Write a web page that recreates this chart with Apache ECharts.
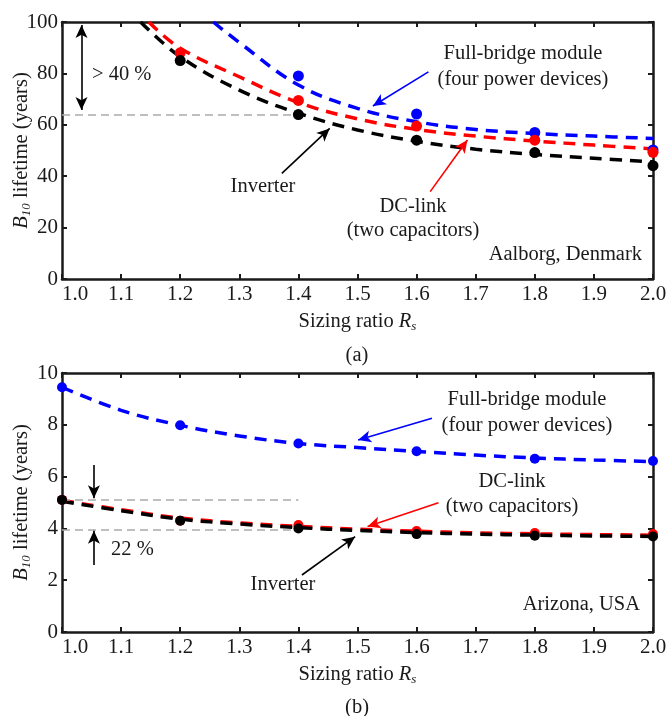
<!DOCTYPE html>
<html><head><meta charset="utf-8">
<script src="https://cdn.jsdelivr.net/npm/echarts@6/dist/echarts.min.js"></script>
<style>html,body{margin:0;padding:0;background:#fff}#c{width:667px;height:716px}</style>
</head><body><div id="c"></div><script>
// ---------- data ----------
// x ticks
const xTickMin = 1.0, xTickMax = 2.0, xTickStep = 0.1;
// (a) Aalborg, Denmark  – simulated points
const aalPtsX      = [1.2, 1.4, 1.6, 1.8, 2.0];
const aalInvPts    = [85, 64, 54, 49.2, 44.1];
const aalDcPts     = [88, 69.5, 59.5, 54, 49.3];
const aalFullPtsX  = [1.4, 1.6, 1.8, 2.0];
const aalFullPts   = [79, 64.2, 57, 50.2];
// (a) fitted dashed curves
const aalInvCurveX  = [1.133, 1.2, 1.3, 1.4, 1.5, 1.6, 1.7, 1.8, 1.9, 2.0];
const aalInvCurveY  = [100, 86.5, 73.5, 64.5, 58, 53.6, 50.5, 48.5, 47, 45.6];
const aalDcCurveX   = [1.147, 1.2, 1.3, 1.4, 1.5, 1.6, 1.7, 1.8, 1.9, 2.0];
const aalDcCurveY   = [100, 89.8, 78.7, 68.7, 62.3, 58.2, 55.6, 53.7, 52.1, 50.6];
const aalFullCurveX = [1.256, 1.3, 1.4, 1.5, 1.6, 1.7, 1.8, 1.9, 2.0];
const aalFullCurveY = [100, 92, 75.5, 66.4, 61.2, 58.2, 56.6, 55.6, 54.7];
// (b) Arizona, USA – simulated points
const ariPtsX    = [1.0, 1.2, 1.4, 1.6, 1.8, 2.0];
const ariInvPts  = [5.1, 4.3, 4.0, 3.78, 3.72, 3.69];
const ariDcPts   = [5.1, 4.3, 4.13, 3.9, 3.82, 3.78];
const ariFullPts = [9.45, 7.98, 7.28, 6.98, 6.69, 6.6];
// (b) fitted dashed curves
const ariCurveX     = [1.0, 1.1, 1.2, 1.3, 1.4, 1.5, 1.6, 1.7, 1.8, 1.9, 2.0];
const ariInvCurveY  = [5.05, 4.68, 4.36, 4.17, 4.03, 3.92, 3.84, 3.78, 3.74, 3.71, 3.69];
const ariDcCurveY   = [5.08, 4.72, 4.40, 4.21, 4.08, 3.97, 3.89, 3.83, 3.79, 3.76, 3.74];
const ariFullCurveY = [9.45, 8.56, 7.98, 7.57, 7.28, 7.12, 6.97, 6.83, 6.72, 6.64, 6.58];
// y ticks
const yTopMax = 100, yTopStep = 20;
const yBotMax = 10,  yBotStep = 2;

// ---------- style ----------
const FONT = 'Liberation Serif';
const FS = 20.5;
const AX = '#1a1a1a';
const BLUE = '#0000ff', RED = '#ff0000', BLACK = '#000000', GRAY = '#aaaaaa';

const zip = (xs, ys) => xs.map((x, i) => [x, ys[i]]);

const richName = {
  i: {fontFamily: FONT, fontSize: FS, fontStyle: 'italic', color: AX},
  s: {fontFamily: FONT, fontSize: 13, fontStyle: 'italic', color: AX, padding: [9, 0, 0, 0]}
};

function xAxesFor(g) {
  const base = {
    type: 'value', gridIndex: g, min: xTickMin, max: xTickMax, interval: xTickStep,
    axisLine: {show: true, onZero: false, lineStyle: {color: AX, width: 2.5}},
    axisTick: {show: true, inside: true, length: 5, lineStyle: {color: AX, width: 2}},
    splitLine: {show: false}
  };
  return [
    Object.assign({}, base, {
      position: 'bottom',
      axisLabel: {show: true, margin: 5, formatter: v => v.toFixed(1), fontFamily: FONT, fontSize: 21, color: AX, alignMinLabel: 'left'},
      name: 'Sizing ratio {i|R}{s|s}', nameLocation: 'middle', nameGap: 32, nameMoveOverlap: false,
      nameTextStyle: {fontFamily: FONT, fontSize: FS, color: AX, rich: richName}
    }),
    Object.assign({}, base, {position: 'top', axisLabel: {show: false}})
  ];
}
function yAxesFor(g, max, step) {
  const base = {
    type: 'value', gridIndex: g, min: 0, max: max, interval: step,
    axisLine: {show: true, onZero: false, lineStyle: {color: AX, width: 2.5}},
    axisTick: {show: true, inside: true, length: 5, lineStyle: {color: AX, width: 2}},
    splitLine: {show: false}
  };
  return [
    Object.assign({}, base, {
      position: 'left',
      axisLabel: {show: true, margin: 4, fontFamily: FONT, fontSize: 21, color: AX},
      name: '{i|B}{s|10} lifetime (years)', nameLocation: 'middle', nameGap: 29, nameMoveOverlap: false,
      nameTextStyle: {fontFamily: FONT, fontSize: FS, color: AX, rich: richName}
    }),
    Object.assign({}, base, {position: 'right', axisLabel: {show: false}})
  ];
}

function curve(xi, yi, data, color, z) {
  return {type: 'line', xAxisIndex: xi, yAxisIndex: yi, data: data, smooth: 0.4, showSymbol: false,
    symbol: 'none', lineStyle: {color: color, width: 3.5, type: [12, 8]}, z: z, silent: true};
}
function pts(xi, yi, data, color, z, extra) {
  return Object.assign({type: 'scatter', xAxisIndex: xi, yAxisIndex: yi, data: data, symbolSize: 11,
    itemStyle: {color: color, opacity: 1}, z: z, silent: true}, extra || {});
}
function arrow(a, b, color, both) {
  return [{coord: a, symbol: both ? 'arrow' : 'none', symbolSize: [9, 13]},
          {coord: b, symbol: 'arrow', symbolSize: [9, 13], lineStyle: {color: color, width: 1.6, type: 'solid'}}];
}
function guide(y) {
  return [{coord: [1.0, y], symbol: 'none'}, {coord: [1.4, y], symbol: 'none', lineStyle: {color: GRAY, width: 1.6, type: [8, 5]}}];
}
const mlBase = {silent: true, animation: false, label: {show: false}, emphasis: {disabled: true}};

const series = [
  curve(0, 0, zip(aalFullCurveX, aalFullCurveY), BLUE, 2),
  curve(0, 0, zip(aalDcCurveX, aalDcCurveY), RED, 3),
  curve(0, 0, zip(aalInvCurveX, aalInvCurveY), BLACK, 4),
  pts(0, 0, zip(aalFullPtsX, aalFullPts), BLUE, 5),
  pts(0, 0, zip(aalPtsX, aalDcPts), RED, 6),
  pts(0, 0, zip(aalPtsX, aalInvPts), BLACK, 7, {
    markLine: Object.assign({}, mlBase, {data: [
      guide(63.8),
      arrow([1.033, 98.8], [1.033, 65.8], BLACK, true),
      arrow([1.620, 80.6], [1.526, 67.3], BLUE),
      arrow([1.623, 34.0], [1.686, 54.1], RED),
      arrow([1.372, 41.1], [1.453, 58.6], BLACK)
    ]})
  }),
  curve(2, 2, zip(ariCurveX, ariFullCurveY), BLUE, 2),
  curve(2, 2, zip(ariCurveX, ariDcCurveY), RED, 3),
  curve(2, 2, zip(ariCurveX, ariInvCurveY), BLACK, 4),
  pts(2, 2, zip(ariPtsX, ariFullPts), BLUE, 5, {symbolSize: 10}),
  pts(2, 2, zip(ariPtsX, ariDcPts), RED, 6, {symbolSize: 10}),
  pts(2, 2, zip(ariPtsX, ariInvPts), BLACK, 7, {symbolSize: 10,
    markLine: Object.assign({}, mlBase, {data: [
      guide(5.1), guide(3.94),
      arrow([1.054, 6.45], [1.054, 5.16], BLACK),
      arrow([1.054, 2.59], [1.054, 3.91], BLACK),
      arrow([1.626, 8.25], [1.501, 7.41], BLUE),
      arrow([1.637, 4.99], [1.517, 4.07], RED),
      arrow([1.406, 2.2], [1.496, 3.68], BLACK)
    ]})
  })
];

function txt(t, x, y, align) {
  return {type: 'text', silent: true, z: 100,
    style: {text: t, x: x, y: y, fill: AX, font: FS + 'px "' + FONT + '"',
      textAlign: align || 'center', textVerticalAlign: 'middle', align: align || 'center', verticalAlign: 'middle'}};
}

const option = {
  animation: false,
  backgroundColor: '#ffffff',
  grid: [
    {left: 62, top: 22, width: 591, height: 257, outerBoundsMode: 'none'},
    {left: 62, top: 373, width: 591, height: 259, outerBoundsMode: 'none'}
  ],
  xAxis: [...xAxesFor(0), ...xAxesFor(1)],
  yAxis: [...yAxesFor(0, yTopMax, yTopStep), ...yAxesFor(1, yBotMax, yBotStep)],
  series: series,
  graphic: [
    txt('> 40 %', 92, 75, 'left'),
    txt('Full-bridge module', 523, 54),
    txt('(four power devices)', 523, 80),
    txt('DC-link', 413, 207),
    txt('(two capacitors)', 413, 231),
    txt('Inverter', 263, 187),
    txt('Aalborg, Denmark', 642, 255, 'right'),
    txt('(a)', 357, 356),
    txt('Full-bridge module', 527, 400),
    txt('(four power devices)', 527, 426),
    txt('DC-link', 512, 482),
    txt('(two capacitors)', 512, 507),
    txt('22 %', 111, 550, 'left'),
    txt('Inverter', 283, 585),
    txt('Arizona, USA', 640, 605, 'right'),
    txt('(b)', 357, 708)
  ]
};
const chart = echarts.init(document.getElementById('c'), null, {renderer: 'canvas'});
chart.setOption(option);
</script></body></html>
